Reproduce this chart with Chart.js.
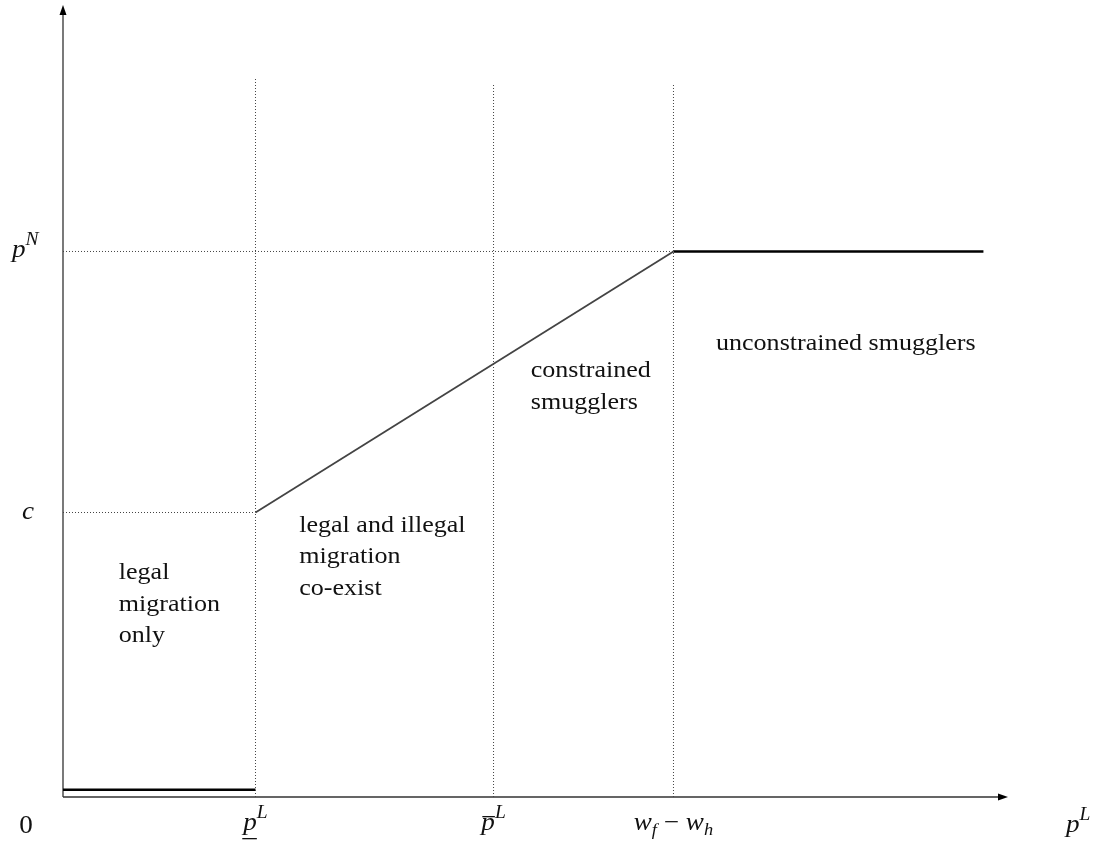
<!DOCTYPE html>
<html>
<head>
<meta charset="utf-8">
<script src="https://cdn.jsdelivr.net/npm/chart.js@4.4.0/dist/chart.umd.min.js"></script>
<style>
  html, body { margin: 0; padding: 0; background: #fff; }
  canvas { display: block; }
</style>
</head>
<body>
<canvas id="chart" width="1102" height="857"></canvas>
<script>
// thresholds on the p^L axis: p_L (lower), p_L bar, w_f - w_h
const xThresholds = [2.037, 4.556, 6.460];
const xEnd = 9.74;
// levels on the p^N axis
const pNLevel = 6.888;
const cLevel = 3.592;
const legalOnlyLevel = 0.09;
// how far the dotted guides reach up
const guideTops = [9.08, 8.99, 8.99];

// region captions
const regionText = [
  ["legal", "migration", "only"],
  ["legal and illegal", "migration", "co-exist"],
  ["constrained", "smugglers"],
  ["unconstrained smugglers"]
];
const regionAnchor = [[0.59, 2.75], [2.50, 3.35], [4.95, 5.30], [6.91, 5.64]];

// the schedule, piece by piece
const lowSegment = [{ x: 0, y: legalOnlyLevel }, { x: xThresholds[0], y: legalOnlyLevel }];
const slopeSegment = [{ x: xThresholds[0], y: cLevel }, { x: xThresholds[2], y: pNLevel }];
const flatSegment = [{ x: xThresholds[2], y: pNLevel }, { x: xEnd, y: pNLevel }];

const dotted = { borderColor: "#444", borderWidth: 1, borderDash: [1, 2] };
const guides = xThresholds.map((x, i) => ({
  ...dotted,
  data: [{ x: x, y: 0 }, { x: x, y: guideTops[i] }]
}));
guides.push({ ...dotted, data: [{ x: 0, y: pNLevel }, { x: xThresholds[2], y: pNLevel }] });
guides.push({ ...dotted, data: [{ x: 0, y: cLevel }, { x: xThresholds[0], y: cLevel }] });

const SERIF = "'Liberation Serif', 'Times New Roman', serif";
const STRETCH = 1.085; // Times is narrower than the original's Computer Modern

// draws a row of text pieces, pieces = [text, font, dy]
function mathRow(ctx, pieces, x, y, align) {
  let total = 0;
  const widths = pieces.map(p => {
    ctx.font = p[1];
    const w = ctx.measureText(p[0]).width * STRETCH;
    total += w;
    return w;
  });
  let cx = align === "center" ? x - total / 2 : x;
  const starts = [];
  pieces.forEach((p, i) => {
    ctx.font = p[1];
    starts.push(cx);
    ctx.save();
    ctx.translate(cx, y + (p[2] || 0));
    ctx.scale(STRETCH, 1);
    ctx.fillText(p[0], 0, 0);
    ctx.restore();
    cx += widths[i];
  });
  return { starts, widths };
}

const axesAndText = {
  id: "axesAndText",
  beforeDatasetsDraw(chart) {
    const { ctx, chartArea: a } = chart;
    ctx.save();
    ctx.strokeStyle = "#333";
    ctx.fillStyle = "#000";
    ctx.lineWidth = 1.3;
    ctx.beginPath();
    ctx.moveTo(a.left, a.bottom);
    ctx.lineTo(a.left, a.top + 6);
    ctx.moveTo(a.left, a.bottom);
    ctx.lineTo(a.right - 6, a.bottom);
    ctx.stroke();
    // arrow heads
    ctx.beginPath();
    ctx.moveTo(a.left, a.top);
    ctx.lineTo(a.left - 3.5, a.top + 10);
    ctx.lineTo(a.left + 3.5, a.top + 10);
    ctx.closePath();
    ctx.fill();
    ctx.beginPath();
    ctx.moveTo(a.right, a.bottom);
    ctx.lineTo(a.right - 10, a.bottom - 3.5);
    ctx.lineTo(a.right - 10, a.bottom + 3.5);
    ctx.closePath();
    ctx.fill();
    ctx.restore();
  },
  afterDatasetsDraw(chart) {
    const { ctx, chartArea: a, scales: { x, y } } = chart;
    ctx.save();
    ctx.fillStyle = "#111";
    ctx.textBaseline = "alphabetic";
    ctx.textAlign = "left";

    // region captions
    const body = "24px " + SERIF;
    regionText.forEach((lines, i) => {
      const px = x.getPixelForValue(regionAnchor[i][0]);
      const py = y.getPixelForValue(regionAnchor[i][1]);
      lines.forEach((t, j) => mathRow(ctx, [[t, body, 0]], px, py + j * 31.5, "left"));
    });

    const it = "italic 25px " + SERIF;
    const sup = "italic 18px " + SERIF;
    const sub = "italic 17px " + SERIF;
    const rm = "25px " + SERIF;
    const base = a.bottom + 33;

    // origin
    mathRow(ctx, [["0", rm, 0]], 26, base + 3, "center");

    // p^L underlined
    let r = mathRow(ctx, [["p", it, 0], ["L", sup, -12]], x.getPixelForValue(xThresholds[0]), base, "center");
    ctx.fillRect(r.starts[0] - 1, base + 8, r.widths[0] + 1, 1.3);

    // p^L with bar
    r = mathRow(ctx, [["p", it, 0], ["L", sup, -12]], x.getPixelForValue(xThresholds[1]), base, "center");
    ctx.fillRect(r.starts[0] + 1, base - 14, r.widths[0] - 1, 1.3);

    // w_f - w_h
    mathRow(ctx, [["w", it, 0], ["f", sub, 5], [" \u2212 ", rm, 0], ["w", it, 0], ["h", sub, 5]],
      x.getPixelForValue(xThresholds[2]), base, "center");

    // axis names
    mathRow(ctx, [["p", it, 0], ["L", sup, -12]], a.right + 58, base + 2, "left");
    mathRow(ctx, [["p", it, 0], ["N", sup, -12]], 12, y.getPixelForValue(pNLevel) + 6, "left");
    mathRow(ctx, [["c", it, 0]], 22, y.getPixelForValue(cLevel) + 6, "left");
    ctx.restore();
  }
};

new Chart(document.getElementById("chart"), {
  type: "scatter",
  data: {
    datasets: [
      ...guides,
      { data: lowSegment, borderColor: "#000", borderWidth: 2.5 },
      { data: slopeSegment, borderColor: "#444", borderWidth: 1.8 },
      { data: flatSegment, borderColor: "#000", borderWidth: 2.5 }
    ].map(d => ({ showLine: true, pointRadius: 0, pointHoverRadius: 0, fill: false, ...d }))
  },
  options: {
    responsive: false,
    animation: false,
    events: [],
    layout: { padding: { left: 63, right: 94, top: 5, bottom: 60 } },
    plugins: { legend: { display: false }, tooltip: { enabled: false } },
    scales: {
      x: { type: "linear", min: 0, max: 10, display: false },
      y: { type: "linear", min: 0, max: 10, display: false }
    }
  },
  plugins: [axesAndText]
});
</script>
</body>
</html>
